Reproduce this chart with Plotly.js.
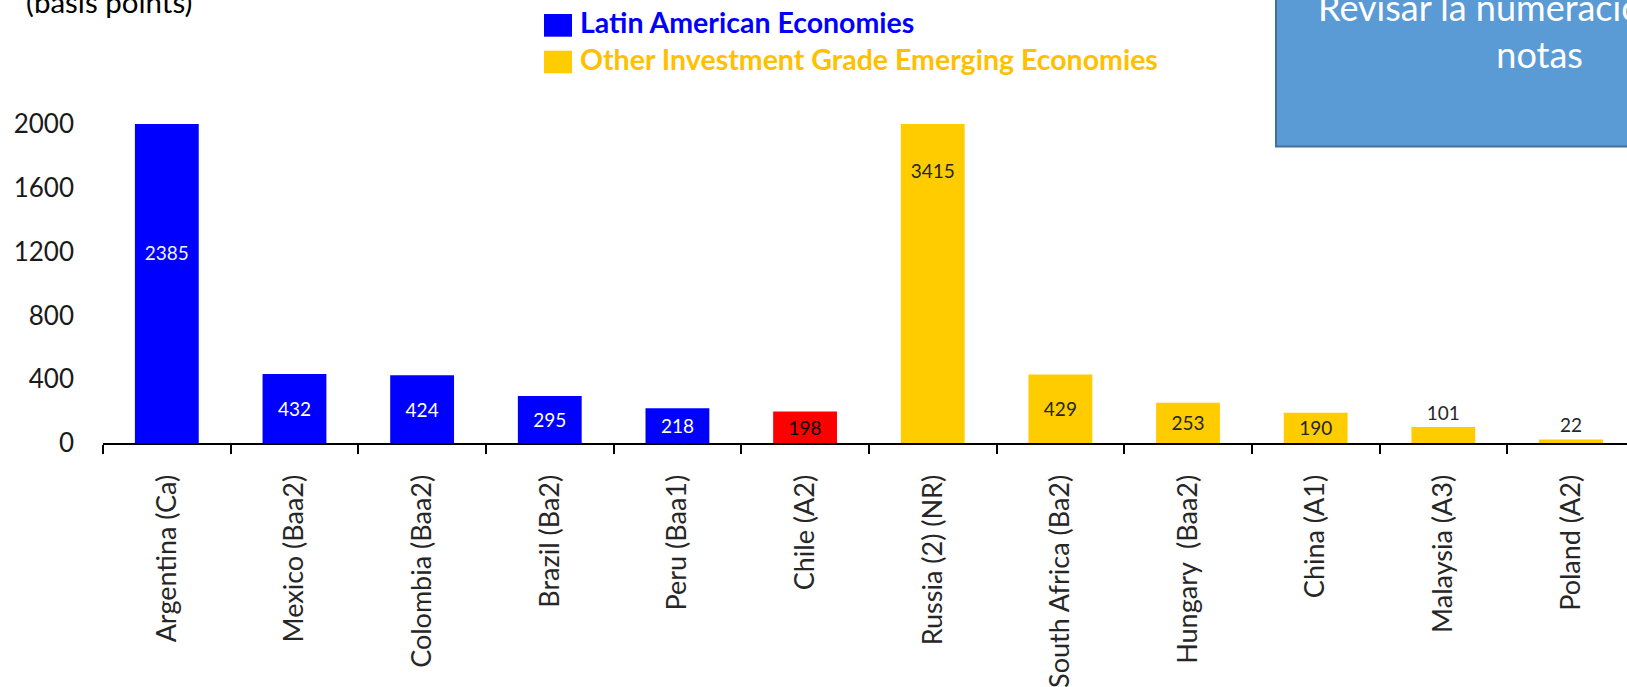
<!DOCTYPE html>
<html>
<head>
<meta charset="utf-8">
<script src="https://cdn.plot.ly/plotly-3.0.1.min.js"></script>
<style>
  html, body { margin: 0; padding: 0; background: #ffffff; }
  #chart { width: 1627px; height: 687px; }
</style>
</head>
<body>
<div id="chart"></div>
<script>
// ---- Data ----
const latinCountries = ['Argentina (Ca)', 'Mexico (Baa2)', 'Colombia (Baa2)', 'Brazil (Ba2)', 'Peru (Baa1)', 'Chile (A2)'];
const latinValues = [2385, 432, 424, 295, 218, 198];
const otherCountries = ['Russia (2) (NR)', 'South Africa (Ba2)', 'Hungary\u00a0 (Baa2)', 'China (A1)', 'Malaysia (A3)', 'Poland (A2)'];
const otherValues = [3415, 429, 253, 190, 101, 22];
const seriesNames = ['Latin American Economies', 'Other Investment Grade Emerging Economies'];
const yTickVals = [0, 400, 800, 1200, 1600, 2000];
const unitLabel = '(basis points)';
const noteLines = ['Revisar la numeración de las', 'notas'];

// ---- Styles ----
const BLUE = '#0000FF', RED = '#FF0000', YELLOW = '#FFCC00';
const latinColors = [BLUE, BLUE, BLUE, BLUE, BLUE, RED];
const latinTextColors = ['#F2F2F2', '#FFFFFF', '#FFFFFF', '#FFFFFF', '#FFFFFF', '#000000'];
const otherTextColors = ['#262626', '#262626', '#262626', '#262626', '#262626', '#262626'];
const latinTextPos = ['inside', 'inside', 'inside', 'inside', 'inside', 'inside'];
const otherTextPos = ['inside', 'inside', 'inside', 'inside', 'outside', 'outside'];
const FONT = 'Lato, Carlito, Calibri, "Open Sans", sans-serif';

const categories = latinCountries.concat(otherCountries);

// plot area geometry (pixels)
const L = 103, T = 124, W = 1524, H = 319;
const px = x => (x - L) / W;
const py = y => (T + H - y) / H;

const barCommon = {
  type: 'bar',
  width: 0.5,
  textangle: 0,
  constraintext: 'none',
  insidetextanchor: 'middle',
  cliponaxis: true,
  texttemplate: '%{y}',
  hoverinfo: 'skip',
  showlegend: false
};

const traces = [
  Object.assign({}, barCommon, {
    name: seriesNames[0],
    x: latinCountries,
    y: latinValues,
    marker: { color: latinColors, line: { width: 0 } },
    textposition: latinTextPos,
    textfont: { family: FONT, size: 19, color: latinTextColors }
  }),
  Object.assign({}, barCommon, {
    name: seriesNames[1],
    x: otherCountries,
    y: otherValues,
    marker: { color: YELLOW, line: { width: 0 } },
    textposition: otherTextPos,
    textfont: { family: FONT, size: 19, color: otherTextColors }
  })
];

const layout = {
  width: 1627,
  height: 687,
  margin: { l: L, r: 1627 - L - W, t: T, b: 687 - T - H, pad: 0 },
  paper_bgcolor: '#ffffff',
  plot_bgcolor: '#ffffff',
  barmode: 'overlay',
  showlegend: false,
  font: { family: FONT, color: '#262626' },
  xaxis: {
    type: 'category',
    categoryorder: 'array',
    categoryarray: categories,
    range: [-0.5, -0.5 + W / 127.65],
    tickangle: -90,
    tickson: 'boundaries',
    ticks: 'outside',
    ticklen: 9,
    tickwidth: 2,
    tickcolor: '#000000',
    showline: true,
    linecolor: '#000000',
    linewidth: 2,
    showgrid: false,
    zeroline: false,
    tickfont: { family: FONT, size: 27, color: '#262626' },
    ticklabelstandoff: 19,
    fixedrange: true
  },
  yaxis: {
    range: [0, 2000],
    tickvals: yTickVals,
    ticktext: yTickVals.map(String),
    ticks: '',
    showline: false,
    showgrid: false,
    zeroline: false,
    tickfont: { family: FONT, size: 26, color: '#1a1a1a' },
    ticklabelstandoff: 28,
    fixedrange: true
  },
  shapes: [
    { type: 'rect', xref: 'paper', yref: 'paper', x0: px(544), x1: px(572), y0: py(36.7), y1: py(14), fillcolor: BLUE, line: { width: 0 } },
    { type: 'rect', xref: 'paper', yref: 'paper', x0: px(544), x1: px(572), y0: py(73.3), y1: py(50.7), fillcolor: YELLOW, line: { width: 0 } },
    { type: 'rect', xref: 'paper', yref: 'paper', x0: px(1276), x1: px(1720), y0: py(146.5), y1: py(-20), fillcolor: '#5B9BD5', line: { color: '#41719C', width: 2 } }
  ],
  annotations: [
    { xref: 'paper', yref: 'paper', x: px(24), y: py(1.5), xanchor: 'left', yanchor: 'middle', showarrow: false,
      text: unitLabel, font: { family: FONT, size: 29.5, color: '#000000' } },
    { xref: 'paper', yref: 'paper', x: px(578), y: py(22), xanchor: 'left', yanchor: 'middle', showarrow: false,
      text: '<b>' + seriesNames[0] + '</b>', font: { family: FONT, size: 28.5, color: BLUE } },
    { xref: 'paper', yref: 'paper', x: px(578), y: py(58.5), xanchor: 'left', yanchor: 'middle', showarrow: false,
      text: '<b>' + seriesNames[1] + '</b>', font: { family: FONT, size: 28.5, color: '#FFC000' } },
    { xref: 'paper', yref: 'paper', x: px(1539), y: py(31), xanchor: 'center', yanchor: 'middle', showarrow: false, align: 'center',
      text: noteLines.join('<br>'), font: { family: FONT, size: 36, color: '#FFFFFF' } }
  ]
};

Plotly.newPlot('chart', traces, layout, { displayModeBar: false, staticPlot: true });
</script>
</body>
</html>
